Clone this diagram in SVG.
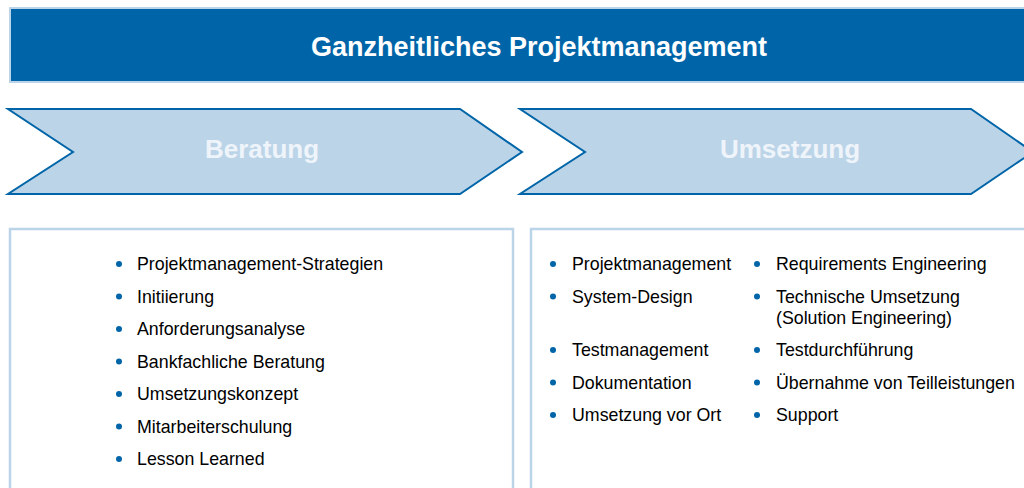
<svg xmlns="http://www.w3.org/2000/svg" width="1024" height="488" viewBox="0 0 1024 488">
<style>
.bar{fill:#0065a8;stroke:#bcd4e8;stroke-width:2}
.chev{fill:#bcd4e8;stroke:#0065a8;stroke-width:2}
.box{fill:#ffffff;stroke:#bcd4e8;stroke-width:2.5}
.title{font-family:"Liberation Sans",Arial,sans-serif;font-weight:bold;font-size:27px;fill:#ffffff}
.phase{font-family:"Liberation Sans",Arial,sans-serif;font-weight:bold;font-size:26px;fill:#eef4fa}
.item{font-family:"Liberation Sans",Arial,sans-serif;font-size:17.8px;fill:#000000}
.dot{fill:#0065a8}
</style>
<rect width="1024" height="488" fill="#ffffff"/>
<g id="header">
<rect class="bar" x="10" y="8" width="1030" height="74"/>
<text class="title" x="539" y="56" text-anchor="middle">Ganzheitliches Projektmanagement</text>
</g>
<g id="beratung">
<polygon class="chev" points="8,109 460,109 522,152 460,194 8,194 73,152"/>
<text class="phase" x="262" y="158" text-anchor="middle">Beratung</text>
</g>
<g id="umsetzung">
<polygon class="chev" points="520,109 971,109 1033,152 971,194 520,194 585,152"/>
<text class="phase" x="790" y="158" text-anchor="middle">Umsetzung</text>
</g>
<g id="beratung-list">
<rect class="box" x="10" y="229" width="503" height="300"/>
<circle class="dot" cx="119" cy="264" r="3"/><text class="item" x="137" y="270">Projektmanagement-Strategien</text>
<circle class="dot" cx="119" cy="296.5" r="3"/><text class="item" x="137" y="302.5">Initiierung</text>
<circle class="dot" cx="119" cy="329" r="3"/><text class="item" x="137" y="335">Anforderungsanalyse</text>
<circle class="dot" cx="119" cy="361.5" r="3"/><text class="item" x="137" y="367.5">Bankfachliche Beratung</text>
<circle class="dot" cx="119" cy="394" r="3"/><text class="item" x="137" y="400">Umsetzungskonzept</text>
<circle class="dot" cx="119" cy="426.5" r="3"/><text class="item" x="137" y="432.5">Mitarbeiterschulung</text>
<circle class="dot" cx="119" cy="459" r="3"/><text class="item" x="137" y="465">Lesson Learned</text>
</g>
<g id="umsetzung-list">
<rect class="box" x="531" y="229" width="520" height="300"/>
<circle class="dot" cx="553" cy="264" r="3"/><text class="item" x="572" y="270">Projektmanagement</text>
<circle class="dot" cx="553" cy="296.5" r="3"/><text class="item" x="572" y="302.5">System-Design</text>
<circle class="dot" cx="553" cy="350" r="3"/><text class="item" x="572" y="356">Testmanagement</text>
<circle class="dot" cx="553" cy="382.5" r="3"/><text class="item" x="572" y="388.5">Dokumentation</text>
<circle class="dot" cx="553" cy="415" r="3"/><text class="item" x="572" y="421">Umsetzung vor Ort</text>
<circle class="dot" cx="757" cy="264" r="3"/><text class="item" x="776" y="270">Requirements Engineering</text>
<circle class="dot" cx="757" cy="296.5" r="3"/><text class="item" x="776" y="302.5">Technische Umsetzung</text>
<text class="item" x="776" y="323.5">(Solution Engineering)</text>
<circle class="dot" cx="757" cy="350" r="3"/><text class="item" x="776" y="356">Testdurchführung</text>
<circle class="dot" cx="757" cy="382.5" r="3"/><text class="item" x="776" y="388.5">Übernahme von Teilleistungen</text>
<circle class="dot" cx="757" cy="415" r="3"/><text class="item" x="776" y="421">Support</text>
</g>
</svg>
